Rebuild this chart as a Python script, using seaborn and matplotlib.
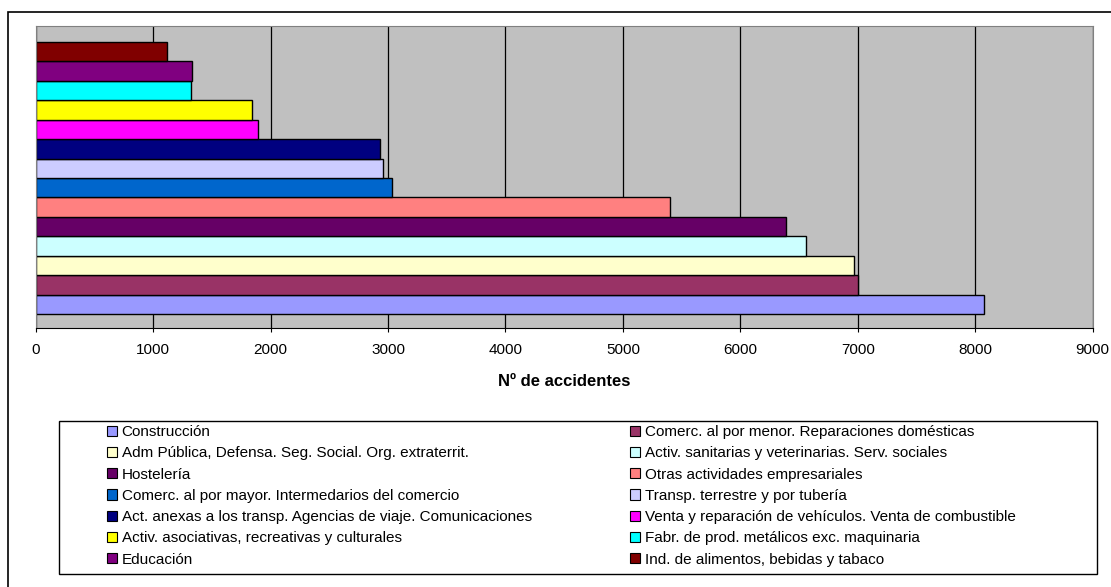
import pandas as pd
import matplotlib.pyplot as plt
from matplotlib.patches import Patch, Rectangle
import seaborn as sns

# series in legend order (first = bottom bar)
sectores = [
    'Construcción',
    'Comerc. al por menor. Reparaciones domésticas',
    'Adm Pública, Defensa. Seg. Social. Org. extraterrit.',
    'Activ. sanitarias y veterinarias. Serv. sociales',
    'Hostelería',
    'Otras actividades empresariales',
    'Comerc. al por mayor. Intermedarios del comercio',
    'Transp. terrestre y por tubería',
    'Act. anexas a los transp. Agencias de viaje. Comunicaciones',
    'Venta y reparación de vehículos. Venta de combustible',
    'Activ. asociativas, recreativas y culturales',
    'Fabr. de prod. metálicos exc. maquinaria',
    'Educación',
    'Ind. de alimentos, bebidas y tabaco',
]
accidentes = [8075, 7005, 6965, 6555, 6390, 5400, 3030, 2955, 2935, 1890, 1845, 1325, 1330, 1120]
colores = ['#9999FF', '#993366', '#FFFFCC', '#CCFFFF', '#660066', '#FF8080', '#0066CC',
           '#CCCCFF', '#000080', '#FF00FF', '#FFFF00', '#00FFFF', '#800080', '#800000']

df = pd.DataFrame({'Sector': sectores, 'Accidentes': accidentes})
paleta = dict(zip(sectores, colores))

plt.rcParams['font.family'] = ['Liberation Sans', 'DejaVu Sans']

fig = plt.figure(figsize=(11.11, 5.87), dpi=100)
ax = fig.add_axes([0.0321, 0.4412, 0.9514, 0.5145])

sns.barplot(data=df, x='Accidentes', y='Sector', hue='Sector', order=sectores[::-1],
            hue_order=sectores, palette=paleta, dodge=False, width=1.0,
            edgecolor='black', linewidth=1.0, saturation=1, legend=False, ax=ax)

ax.set_facecolor('#C0C0C0')
ax.set_xlim(0, 9000)
ax.set_ylim(13.5 + 0.71, -0.5 - 0.81)
ax.set_xticks(range(0, 9001, 1000))
ax.xaxis.grid(True, color='black', linewidth=0.9)
ax.set_axisbelow(True)
ax.set_yticks([])
ax.set_ylabel('')
ax.tick_params(axis='x', labelsize=11, length=3, width=0.8, pad=8, color='black')
ax.set_xlabel('Nº de accidentes', fontsize=12, fontweight='bold', labelpad=12)
for s in ['left', 'right', 'top']:
    ax.spines[s].set_color('#808080')
ax.spines['bottom'].set_color('black')

# outer chart frame
fig.add_artist(Rectangle((8 / 1111, 1 - 700 / 587), 1200 / 1111, 688 / 587,
                         transform=fig.transFigure, fill=False, edgecolor='black', linewidth=1.2))
# legend box
fig.add_artist(Rectangle((59 / 1111, 1 - 574 / 587), 1038 / 1111, 153 / 587,
                         transform=fig.transFigure, fill=False, edgecolor='black', linewidth=1.0))

handles = [Patch(facecolor=c, edgecolor='black', linewidth=0.8) for c in colores]
orden = list(range(0, 14, 2)) + list(range(1, 14, 2))
fig.legend([handles[i] for i in orden], [sectores[i] for i in orden], ncol=2,
           loc='upper left', bbox_to_anchor=(0.0963, 1 - 425 / 587, 0.818, 0),
           mode='expand', frameon=False, fontsize=11, borderpad=0, borderaxespad=0,
           handlelength=0.65, handleheight=0.65, handletextpad=0.3, labelspacing=0.475)

plt.savefig('out.png', dpi=100)
